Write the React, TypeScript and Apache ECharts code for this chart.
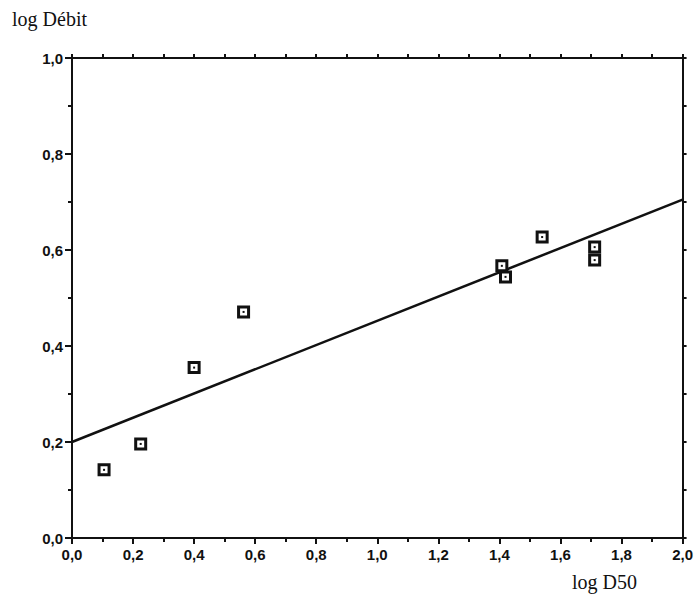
import React, { useEffect, useRef } from "react";
import * as echarts from "echarts";

const pointsX = [0.105, 0.225, 0.4, 0.562, 1.408, 1.42, 1.54, 1.712, 1.712];
const pointsY = [0.142, 0.196, 0.355, 0.471, 0.567, 0.544, 0.627, 0.606, 0.579];
const lineX = [0, 2];
const lineY = [0.2, 0.705];
const xTitle = "log D50";
const yTitle = "log Débit";

const fmt = (v: number) => v.toFixed(1).replace(".", ",");

export default function App() {
  const ref = useRef<HTMLDivElement>(null);
  useEffect(() => {
    if (!ref.current) return;
    const chart = echarts.init(ref.current, undefined, { renderer: "svg" });
    const pts = pointsX.map((x, i) => [x, pointsY[i]]);
    const line = lineX.map((x, i) => [x, lineY[i]]);
    const axisLine = { show: true, onZero: false, lineStyle: { color: "#111", width: 2 } };
    const labelStyle = {
      color: "#111",
      fontFamily: "Liberation Sans, Arial, sans-serif",
      fontWeight: "bold" as const,
      fontSize: 15,
    };
    chart.setOption({
      animation: false,
      backgroundColor: "#fff",
      grid: { left: 72, right: 12, top: 58, bottom: 58, containLabel: false },
      xAxis: [
        {
          type: "value",
          min: 0,
          max: 2,
          interval: 0.2,
          position: "bottom",
          axisLine,
          axisTick: { show: true, length: 6, lineStyle: { color: "#111", width: 2 } },
          minorTick: { show: true, splitNumber: 2, length: 4, lineStyle: { color: "#111", width: 2 } },
          splitLine: { show: false },
          axisLabel: { ...labelStyle, margin: 9, formatter: fmt },
        },
        {
          type: "value",
          min: 0,
          max: 2,
          interval: 0.1,
          position: "top",
          axisLine,
          axisTick: { show: true, length: 4, lineStyle: { color: "#111", width: 2 } },
          splitLine: { show: false },
          axisLabel: { show: false },
        },
      ],
      yAxis: [
        {
          type: "value",
          min: 0,
          max: 1,
          interval: 0.2,
          position: "left",
          axisLine,
          axisTick: { show: true, length: 7, lineStyle: { color: "#111", width: 2 } },
          minorTick: { show: true, splitNumber: 2, length: 4, lineStyle: { color: "#111", width: 2 } },
          splitLine: { show: false },
          axisLabel: { ...labelStyle, margin: 9, formatter: fmt },
        },
        {
          type: "value",
          min: 0,
          max: 1,
          interval: 0.1,
          position: "right",
          axisLine,
          axisTick: { show: true, length: 4, lineStyle: { color: "#111", width: 2 } },
          splitLine: { show: false },
          axisLabel: { show: false },
        },
      ],
      graphic: [
        {
          type: "text",
          left: 12,
          top: 9,
          style: {
            text: yTitle,
            fontFamily: "Liberation Serif, Times New Roman, serif",
            fontSize: 20,
            fill: "#111",
          },
        },
        {
          type: "text",
          left: 572,
          top: 572,
          style: {
            text: xTitle,
            fontFamily: "Liberation Serif, Times New Roman, serif",
            fontSize: 20,
            fill: "#111",
          },
        },
      ],
      series: [
        {
          type: "line",
          data: line,
          xAxisIndex: 0,
          yAxisIndex: 0,
          symbol: "none",
          lineStyle: { color: "#111", width: 2.5 },
          z: 2,
        },
        {
          type: "scatter",
          data: pts,
          xAxisIndex: 0,
          yAxisIndex: 0,
          symbol: "rect",
          symbolSize: 10,
          itemStyle: { color: "#fff", borderColor: "#111", borderWidth: 3, opacity: 1 },
          z: 3,
        },
        {
          type: "scatter",
          data: pts,
          xAxisIndex: 0,
          yAxisIndex: 0,
          symbol: "rect",
          symbolSize: 2,
          itemStyle: { color: "#111", opacity: 1 },
          z: 4,
          silent: true,
        },
      ],
    });
    return () => chart.dispose();
  }, []);
  return (
    <div
      ref={ref}
      style={{ position: "fixed", left: 0, top: 0, width: 696, height: 596 }}
    />
  );
}
